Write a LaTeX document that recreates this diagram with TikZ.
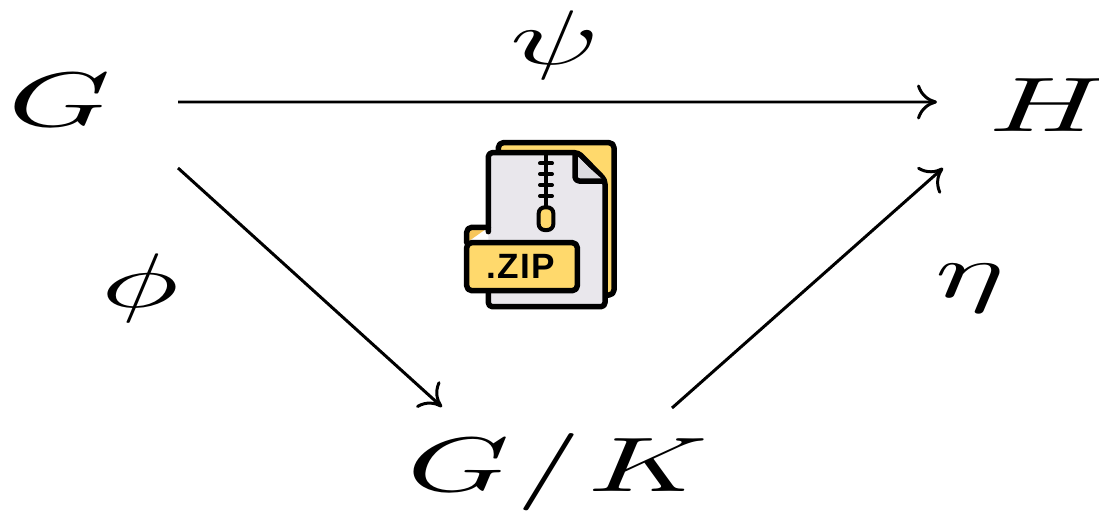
\documentclass[tikz,border=0pt]{standalone}
\usepackage{fontspec}
\setsansfont{Liberation Sans}
\usetikzlibrary{arrows.meta}
\definecolor{zipYellow}{HTML}{FFD96C}
\definecolor{zipShade}{HTML}{F7C65A}
\definecolor{zipPaper}{HTML}{E9E7EC}
\definecolor{zipFold}{HTML}{DCDBE0}
\tikzset{
    mathLabel/.style={xscale=7.4, yscale=4.4, inner sep=0pt},
    mapArrow/.style={line width=1.7pt, -{Computer Modern Rightarrow[length=4mm,width=7mm]}},
    iconLine/.style={draw=black, line width=1.1mm, line join=round, line cap=round},
    zipperLine/.style={draw=black, line width=0.8mm, line cap=round}
}
\begin{document}
\begin{tikzpicture}
    \useasboundingbox (0,0) rectangle (21.98,10.24);

    \node[mathLabel] (G) at (1.2,8.24) {$G$};
    \node[mathLabel] (H) at (20.98,8.14) {$H$};
    \node[mathLabel] (GK) at (11.16,0.79) {$G\mskip1mu/\mskip1mu K$};

    \node[mathLabel] (psi) at (11.1,9.34) {$\psi$};
    \node[mathLabel] (phi) at (2.8,4.48) {$\phi$};
    \node[mathLabel] (eta) at (19.4,4.48) {$\eta$};

    \draw[mapArrow] ([shift={(2.36,-0.04)}]G.center) -- ([shift={(-2.24,0.06)}]H.center);
    \draw[mapArrow] ([shift={(2.36,-1.36)}]G.center) -- ([shift={(-2.32,1.31)}]GK.center);
    \draw[mapArrow] ([shift={(2.28,1.29)}]GK.center) -- ([shift={(-2.12,-1.26)}]H.center);

    % zip file icon
    \begin{scope}[shift={(8.8,7.84)}, x=0.06667mm, y=-0.06667mm]
        \draw[iconLine, fill=zipYellow, rounded corners=1mm] (175,68) rectangle (522,525);
        \draw[iconLine, fill=zipPaper, rounded corners=0.8mm]
            (145,335) -- (145,98) -- (415,98) -- (495,180) -- (495,560) -- (145,560) -- (145,510);
        \draw[iconLine, fill=zipFold, rounded corners=0.8mm] (405,105) -- (405,183) -- (492,183);
        \draw[zipperLine] (318,100) -- (318,265);
        \foreach \y in {130,162,195,228}
            \draw[zipperLine] (300,\y) -- (336,\y);
        \draw[zipperLine, fill=zipYellow, rounded corners=1.2mm] (296,262) rectangle (340,330);
        \draw[iconLine, fill=zipShade, rounded corners=1mm] (80,368) -- (80,322) -- (145,322);
        \draw[iconLine, fill=zipYellow, rounded corners=1mm] (80,368) rectangle (412,512);
        \node[inner sep=0pt, font=\sffamily\bfseries\fontsize{20}{20}\selectfont\addfontfeature{LetterSpace=4}] (zipText) at (242,439) {.ZIP};
    \end{scope}
\end{tikzpicture}
\end{document}
